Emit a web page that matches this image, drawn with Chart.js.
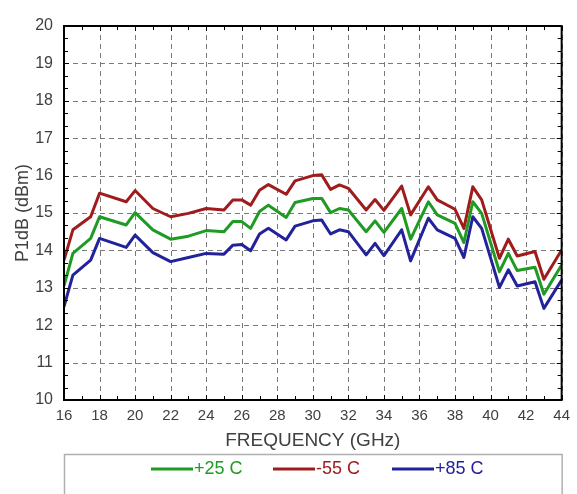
<!DOCTYPE html>
<html>
<head>
<meta charset="utf-8">
<script src="https://cdn.jsdelivr.net/npm/chart.js@4"></script>
<style>
  body { margin: 0; background: #fff; }
  #wrap { width: 577px; height: 494px; }
</style>
</head>
<body>
<div id="wrap"><canvas id="p1db"></canvas></div>
<script>
// frequency points (GHz) and P1dB values (dBm)
var freqs = [16, 16.5, 17.5, 18, 19.5, 20, 21, 22, 23, 24, 25, 25.5, 26, 26.5, 27, 27.5, 28.5, 29, 30, 30.5,
  31, 31.5, 32, 33, 33.5, 34, 35, 35.5, 36.5, 37, 38, 38.5, 39, 39.5, 40.5, 41, 41.5, 42.5, 43, 44];

var p25 = [13.05, 13.92, 14.32, 14.9, 14.68, 15.01, 14.55, 14.3, 14.38, 14.53,
  14.5, 14.77, 14.77, 14.59, 15.04, 15.21, 14.88, 15.28, 15.39, 15.39,
  15.01, 15.12, 15.08, 14.5, 14.79, 14.48, 15.12, 14.3, 15.3, 14.95,
  14.72, 14.21, 15.3, 14.99, 13.43, 13.92, 13.46, 13.55, 12.83, 13.61];

var m55 = [13.74, 14.55, 14.9, 15.53, 15.3, 15.6, 15.12, 14.9, 14.99, 15.12,
  15.08, 15.35, 15.35, 15.21, 15.61, 15.76, 15.5, 15.86, 16.0, 16.02,
  15.63, 15.75, 15.66, 15.08, 15.36, 15.07, 15.72, 14.95, 15.7, 15.35,
  15.1, 14.59, 15.7, 15.35, 13.79, 14.3, 13.85, 13.97, 13.23, 14.01];

var p85 = [12.5, 13.34, 13.74, 14.32, 14.08, 14.41, 13.94, 13.7, 13.81, 13.92,
  13.9, 14.14, 14.16, 13.99, 14.44, 14.59, 14.28, 14.65, 14.79, 14.81,
  14.44, 14.55, 14.5, 13.88, 14.19, 13.86, 14.55, 13.72, 14.86, 14.55,
  14.32, 13.81, 14.9, 14.59, 13.01, 13.48, 13.05, 13.16, 12.45, 13.21];

var seriesNames = ['+25 C', '-55 C', '+85 C'];
var seriesColors = ['#1f9a22', '#a01c1c', '#22229a'];

function toPoints(vals) {
  return vals.map(function (v, i) { return { x: freqs[i], y: v }; });
}

var textFont = '"Liberation Sans", Arial, sans-serif';
var textColor = '#404040';

// dashed grid drawn under the curves
var gridPlugin = {
  id: 'dashgrid',
  beforeDatasetsDraw: function (chart) {
    var ctx = chart.ctx, a = chart.chartArea;
    var xs = chart.scales.x, ys = chart.scales.y;
    ctx.save();
    ctx.strokeStyle = '#7a7a7a';
    ctx.lineWidth = 1;
    ctx.setLineDash([5, 4]);
    ctx.beginPath();
    xs.ticks.forEach(function (t) {
      var px = Math.round(xs.getPixelForValue(t.value)) + 0.5;
      ctx.moveTo(px, a.top); ctx.lineTo(px, a.bottom);
    });
    ys.ticks.forEach(function (t) {
      var py = Math.round(ys.getPixelForValue(t.value)) + 0.5;
      ctx.moveTo(a.left, py); ctx.lineTo(a.right, py);
    });
    ctx.stroke();
    ctx.restore();
  }
};

// frame, inner tick marks and the boxed legend under the axis title
var framePlugin = {
  id: 'frame',
  afterDatasetsDraw: function (chart) {
    var ctx = chart.ctx, a = chart.chartArea;
    var xs = chart.scales.x, ys = chart.scales.y;
    ctx.save();
    ctx.strokeStyle = '#000';
    ctx.lineWidth = 1;
    ctx.beginPath();
    for (var f = 16; f <= 44; f += 1) {
      var px = Math.round(xs.getPixelForValue(f)) + 0.5;
      var len = (f % 2 === 0) ? 5 : 4;
      ctx.moveTo(px, a.top); ctx.lineTo(px, a.top + len);
      ctx.moveTo(px, a.bottom); ctx.lineTo(px, a.bottom - len);
    }
    for (var k = 0; k <= 30; k++) {
      var py = Math.round(ys.getPixelForValue(10 + k / 3)) + 0.5;
      var l2 = (k % 3 === 0) ? 5 : 4;
      ctx.moveTo(a.left, py); ctx.lineTo(a.left + l2, py);
      ctx.moveTo(a.right, py); ctx.lineTo(a.right - l2, py);
    }
    ctx.stroke();
    ctx.lineWidth = 2;
    ctx.strokeRect(a.left, a.top, a.right - a.left, a.bottom - a.top);

    // legend box
    ctx.strokeStyle = '#b0b0b0';
    ctx.lineWidth = 1.5;
    ctx.strokeRect(a.left + 0.5, 454.5, a.right - a.left, 60);
    ctx.font = '18px ' + textFont;
    ctx.textBaseline = 'middle';
    var itemX = [151, 273, 392];
    for (var i = 0; i < seriesNames.length; i++) {
      ctx.strokeStyle = seriesColors[i];
      ctx.lineWidth = 3;
      ctx.beginPath();
      ctx.moveTo(itemX[i], 469); ctx.lineTo(itemX[i] + 42, 469);
      ctx.stroke();
      ctx.fillStyle = seriesColors[i];
      ctx.fillText(seriesNames[i], itemX[i] + 43, 469);
    }
    ctx.restore();
  }
};

var ctx = document.getElementById('p1db').getContext('2d');
var chart = new Chart(ctx, {
  type: 'line',
  data: {
    datasets: [
      { label: seriesNames[0], data: toPoints(p25), borderColor: seriesColors[0] },
      { label: seriesNames[1], data: toPoints(m55), borderColor: seriesColors[1] },
      { label: seriesNames[2], data: toPoints(p85), borderColor: seriesColors[2] }
    ]
  },
  options: {
    responsive: true,
    maintainAspectRatio: false,
    animation: false,
    layout: { padding: { top: 26, right: 10, bottom: 42, left: 0 } },
    elements: {
      line: { borderWidth: 3, tension: 0, borderJoinStyle: 'round' },
      point: { radius: 0 }
    },
    plugins: {
      legend: { display: false },
      tooltip: { enabled: false }
    },
    scales: {
      x: {
        type: 'linear',
        min: 16, max: 44,
        afterFit: function (s) { s.height = 52; },
        ticks: { stepSize: 2, color: textColor, font: { family: textFont, size: 15 }, padding: 7, maxRotation: 0 },
        grid: { display: false, drawTicks: false },
        border: { display: false },
        title: { display: true, text: 'FREQUENCY (GHz)', color: textColor, font: { family: textFont, size: 19 }, padding: { top: 0, bottom: 0 } }
      },
      y: {
        min: 10, max: 20,
        afterFit: function (s) { s.width = 64; },
        ticks: { stepSize: 1, color: textColor, font: { family: textFont, size: 16 }, padding: 11 },
        grid: { display: false, drawTicks: false },
        border: { display: false },
        title: { display: true, text: 'P1dB (dBm)', color: textColor, font: { family: textFont, size: 18 }, padding: { top: 12, bottom: 0 } }
      }
    }
  },
  plugins: [gridPlugin, framePlugin]
});
</script>
</body>
</html>
